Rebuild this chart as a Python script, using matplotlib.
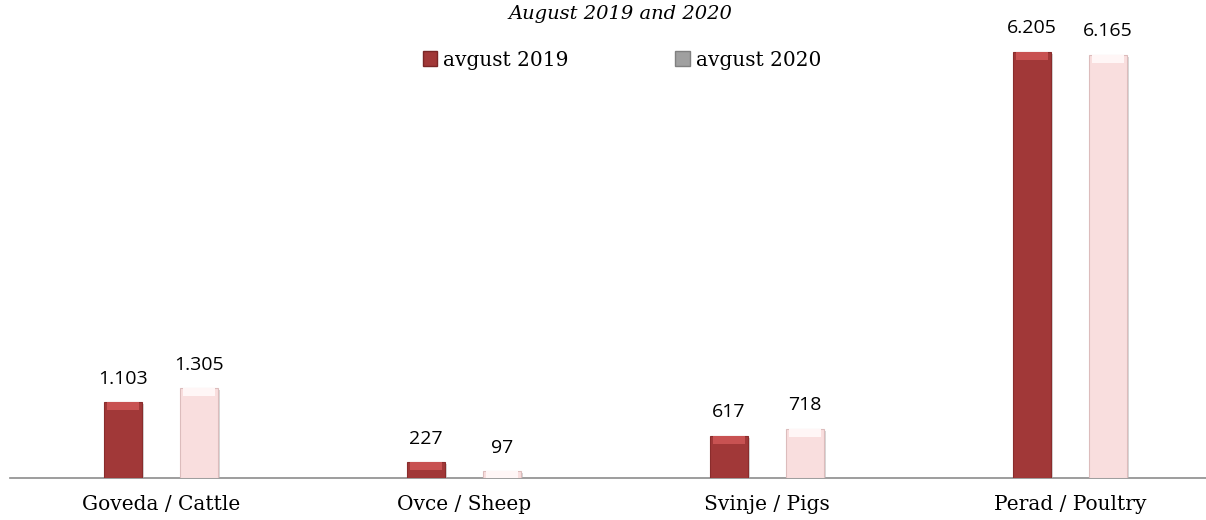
import numpy as np
import matplotlib.pyplot as plt
import matplotlib.patheffects as pe
from matplotlib.patches import Patch

categories = ['Goveda / Cattle', 'Ovce / Sheep', 'Svinje / Pigs', 'Perad / Poultry']
vals_2019 = [1103, 227, 617, 6205]
vals_2020 = [1305, 97, 718, 6165]
labels_2019 = ['1.103', '227', '617', '6.205']
labels_2020 = ['1.305', '97', '718', '6.165']
series_names = ['avgust 2019', 'avgust 2020']
title = 'August 2019 and 2020'

W, H = 1206, 520
fig = plt.figure(figsize=(W / 100, H / 100), dpi=100)

# axis geometry in pixels (category spacing ~303 px, baseline at y=478)
ymax = 6500
px_per_unit = 426 / 6205
ax_h = ymax * px_per_unit
ax = fig.add_axes([9.5 / W, 42 / H, 1212 / W, ax_h / H])
ax.set_xlim(-0.5, 3.5)
ax.set_ylim(0, ymax)

x = np.arange(len(categories))
off = 38 / 303
bw = 38 / 303

shadow = [pe.SimplePatchShadow(offset=(1.5, -1.5), shadow_rgbFace='#b0b0b0', alpha=0.5), pe.Normal()]
b1 = ax.bar(x - off, vals_2019, bw, color='#a13838', edgecolor='#8a2c2c', linewidth=0.8, zorder=3)
b2 = ax.bar(x + off, vals_2020, bw, color='#f9dede', edgecolor='#dcbcbc', linewidth=0.8, zorder=3)
for b in list(b1) + list(b2):
    b.set_path_effects(shadow)

# lighter top bevel on each bar
bev = 8 / px_per_unit
ax.bar(x - off, [min(bev, v) for v in vals_2019], bw * 0.85,
       bottom=[v - min(bev, v) for v in vals_2019], color='#c85252', linewidth=0, zorder=4)
ax.bar(x + off, [min(bev, v) for v in vals_2020], bw * 0.85,
       bottom=[v - min(bev, v) for v in vals_2020], color='#fff6f6', linewidth=0, zorder=4)

for i in range(len(categories)):
    ax.annotate(labels_2019[i], (x[i] - off, vals_2019[i]), xytext=(0, 17), textcoords='offset points',
                ha='center', va='center', fontsize=14, family='Open Sans', color='black')
    ax.annotate(labels_2020[i], (x[i] + off, vals_2020[i]), xytext=(0, 17), textcoords='offset points',
                ha='center', va='center', fontsize=14, family='Open Sans', color='black')

for s in ['top', 'right', 'left']:
    ax.spines[s].set_visible(False)
ax.spines['bottom'].set_color('#8c8c8c')
ax.spines['bottom'].set_linewidth(1.2)
ax.set_yticks([])
ax.set_xticks(x)
ax.set_xticklabels(categories, fontsize=14.5, family='DejaVu Serif')
ax.tick_params(axis='x', length=0, pad=12)

fig.text(620 / W, 1 - 14 / H, title, ha='center', va='center', fontsize=14,
         family='DejaVu Serif', style='italic')

handles = [Patch(facecolor='#a13838', edgecolor='#7a2626'),
           Patch(facecolor='#a0a0a0', edgecolor='#808080')]
fig.legend(handles, series_names, loc='center', bbox_to_anchor=(622 / W, 1 - 60 / H), ncol=2,
           frameon=False, prop={'family': 'DejaVu Serif', 'size': 14.5}, handlelength=0.7,
           handleheight=0.7, handletextpad=0.3, columnspacing=5.3)

fig.savefig('out.png', dpi=100)
